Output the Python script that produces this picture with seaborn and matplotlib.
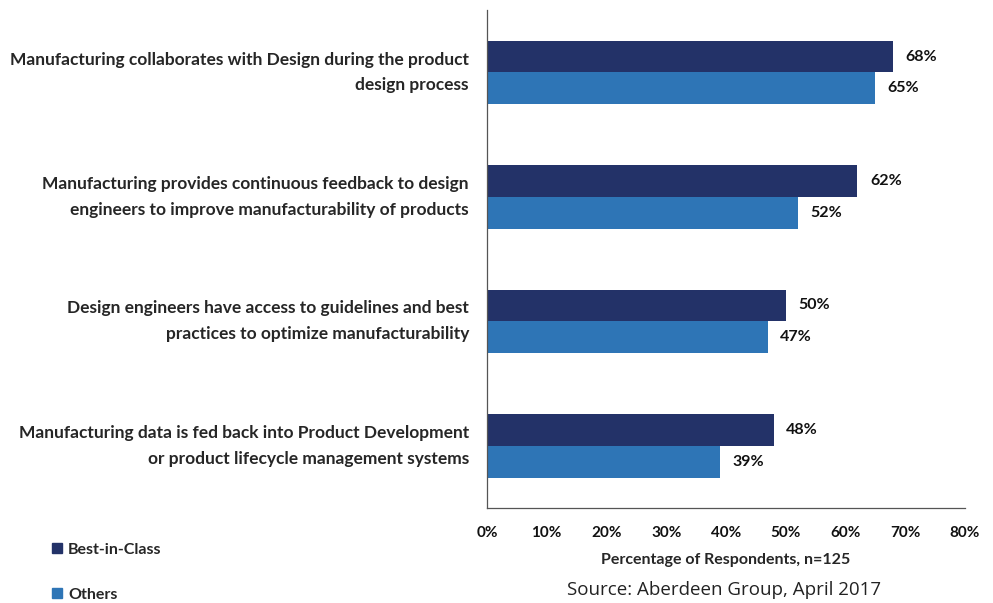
import pandas as pd
import matplotlib.pyplot as plt
import seaborn as sns

# data
categories = [
    "Manufacturing collaborates with Design during the product\ndesign process",
    "Manufacturing provides continuous feedback to design\nengineers to improve manufacturability of products",
    "Design engineers have access to guidelines and best\npractices to optimize manufacturability",
    "Manufacturing data is fed back into Product Development\nor product lifecycle management systems",
]
best_in_class = [68, 62, 50, 48]
others = [65, 52, 47, 39]
groups = ["Best-in-Class", "Others"]
colors = ["#233268", "#2E75B6"]
x_ticks = [0, 10, 20, 30, 40, 50, 60, 70, 80]

df = pd.DataFrame({
    "category": categories * 2,
    "group": [groups[0]] * 4 + [groups[1]] * 4,
    "value": best_in_class + others,
})

sns.set_style("white")
plt.rcParams["font.family"] = ["Lato", "DejaVu Sans"]

fig = plt.figure(figsize=(9.93, 6.03), dpi=100)
ax = fig.add_axes([0.4904, 0.1575, 0.4814, 0.8255])

sns.barplot(data=df, y="category", x="value", hue="group", orient="h",
            palette=colors, width=0.51, ax=ax, legend=False,
            saturation=1, edgecolor="none")

for cont in ax.containers:
    ax.bar_label(cont, labels=[f"{v:.0f}%" for v in cont.datavalues],
                 padding=9, fontsize=11.5, fontweight="bold", color="#111111")

ax.set_xlim(0, 80)
ax.set_ylim(3.5, -0.5)
ax.set_xticks(x_ticks)
ax.set_xticklabels([f"{t}%" for t in x_ticks], fontsize=11, fontweight="bold")
ax.set_yticks(range(len(categories)))
ax.set_yticklabels(categories, fontsize=12.5, fontweight="bold", ha="right",
                   multialignment="right", linespacing=1.75, va="center")
for lbl in ax.get_yticklabels():
    lbl.set_y(lbl.get_position()[1])
ax.tick_params(axis="y", length=0, pad=13)
ax.tick_params(axis="x", length=5, direction="out", width=0.8, pad=8, colors="#111111")
ax.set_xlabel("Percentage of Respondents, n=125", fontsize=11.5, fontweight="bold",
              labelpad=9)
ax.set_ylabel("")

for side in ["top", "right"]:
    ax.spines[side].set_visible(False)
for side in ["left", "bottom"]:
    ax.spines[side].set_color("#555555")
    ax.spines[side].set_linewidth(0.9)

# legend placed bottom-left, stacked
handles = [plt.Rectangle((0, 0), 1, 1, color=c) for c in colors]
fig.legend(handles, groups, loc="lower left", bbox_to_anchor=(0.038, -0.022),
           frameon=False, prop={"weight": "bold", "size": 11.5},
           handlelength=0.6, handleheight=0.6, labelspacing=1.95, handletextpad=0.4)

fig.text(0.729, 0.006, "Source: Aberdeen Group, April 2017", fontsize=13.5,
         ha="center", va="bottom", family=["Open Sans", "DejaVu Sans"], color="#222222")

fig.savefig("out.png", dpi=100)
